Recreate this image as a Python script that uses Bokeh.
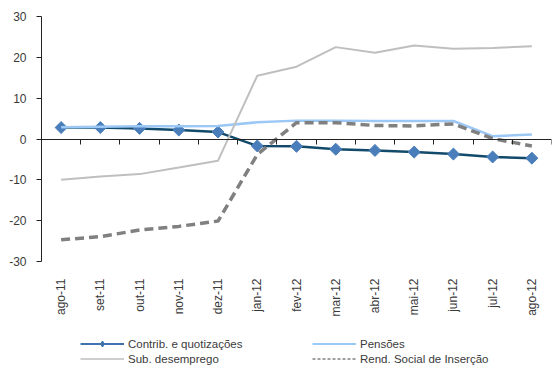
import numpy as np
from bokeh.plotting import figure
from bokeh.layouts import column
from bokeh.models import (Range1d, FixedTicker, LinearAxis, CustomJSTickFormatter,
                          Legend, LegendItem, ColumnDataSource)
from bokeh.embed import file_html
from bokeh.resources import INLINE

months = ["ago-11", "set-11", "out-11", "nov-11", "dez-11", "jan-12", "fev-12",
          "mar-12", "abr-12", "mai-12", "jun-12", "jul-12", "ago-12"]
contrib = [2.8, 2.8, 2.6, 2.2, 1.7, -1.7, -1.8, -2.5, -2.8, -3.2, -3.7, -4.4, -4.7]
pensoes = [2.9, 3.0, 3.1, 3.1, 3.2, 4.1, 4.5, 4.5, 4.4, 4.4, 4.4, 0.7, 1.1]
sub_desemprego = [-10.0, -9.2, -8.6, -7.0, -5.3, 15.5, 17.7, 22.5, 21.1, 22.9, 22.1, 22.3, 22.7]
rsi = [-24.7, -23.9, -22.3, -21.4, -20.1, -3.8, 4.0, 4.0, 3.3, 3.2, 3.7, 0.1, -1.7]
y_ticks = [-30, -20, -10, 0, 10, 20, 30]

names = ["Contrib. e quotizações", "Pensões", "Sub. desemprego", "Rend. Social de Inserção"]

FONT = "Liberation Sans"
TXT = "#3a3a3a"

x = np.arange(len(months)) + 0.5
src = ColumnDataSource(dict(x=x, c=contrib, p=pensoes, s=sub_desemprego, r=rsi))

p = figure(frame_width=510, frame_height=245, output_backend="svg", toolbar_location=None,
           x_range=Range1d(0, len(months)), y_range=Range1d(-30, 30),
           min_border_left=41, min_border_right=1, min_border_top=16, min_border_bottom=57)
p.outline_line_color = None
p.background_fill_color = "white"
p.border_fill_color = "white"
p.xgrid.grid_line_color = None
p.ygrid.grid_line_color = None

# y axis
ya = p.yaxis[0]
ya.ticker = FixedTicker(ticks=y_ticks)
ya.formatter = CustomJSTickFormatter(code="return String(Math.round(tick));")
ya.axis_line_color = "#222222"
ya.major_tick_line_color = "#222222"
ya.major_tick_out = 5
ya.major_tick_in = 0
ya.minor_tick_line_color = None
ya.major_label_standoff = 10
ya.major_label_text_font = FONT
ya.major_label_text_font_size = "12px"
ya.major_label_text_color = TXT

# bottom axis with month labels
xa = p.xaxis[0]
xa.ticker = FixedTicker(ticks=list(x))
xa.formatter = CustomJSTickFormatter(args=dict(labels=months),
                                     code="return labels[Math.round(tick - 0.5)];")
xa.axis_line_color = None
xa.major_tick_line_color = None
xa.minor_tick_line_color = None
xa.major_label_orientation = np.pi / 2
xa.major_label_standoff = 11
xa.major_label_text_font = FONT
xa.major_label_text_font_size = "12px"
xa.major_label_text_color = TXT

# zero line axis with ticks at category boundaries
za = LinearAxis(fixed_location=0, ticker=FixedTicker(ticks=list(range(len(months) + 1))))
za.formatter = CustomJSTickFormatter(code="return '';")
za.axis_line_color = "#222222"
za.major_tick_line_color = "#222222"
za.major_tick_in = 0
za.major_tick_out = 5
za.minor_tick_line_color = None
za.major_label_standoff = 0
p.add_layout(za, "below")

# series (Excel order)
p.line("x", "c", source=src, line_color="#124A6B", line_width=2.5)
p.scatter("x", "c", source=src, marker="square", angle=np.pi / 4, size=8.5,
          fill_color="#4A7EBB", line_color="#4A7EBB")
p.line("x", "p", source=src, line_color="#9CC8F5", line_width=2.5)
p.line("x", "s", source=src, line_color="#BFBFBF", line_width=2)
p.line("x", "r", source=src, line_color="#808080", line_width=3.5, line_dash="9 5")

# legend strip
q = figure(frame_width=552, frame_height=52, output_backend="svg", toolbar_location=None,
           x_axis_type=None, y_axis_type=None, x_range=Range1d(0, 1), y_range=Range1d(0, 1),
           min_border=0)
q.outline_line_color = None
q.xgrid.grid_line_color = None
q.ygrid.grid_line_color = None
nan_src = ColumnDataSource(dict(x=[np.nan], y=[np.nan]))
lg_c1 = q.line("x", "y", source=nan_src, line_color="#3F72AF", line_width=2)
lg_c2 = q.scatter("x", "y", source=nan_src, marker="diamond", size=7,
                  fill_color="#3F72AF", line_color="#3F72AF")
lg_s = q.line("x", "y", source=nan_src, line_color="#BFBFBF", line_width=1.5)
lg_p = q.line("x", "y", source=nan_src, line_color="#9CC8F5", line_width=2)
lg_r = q.line("x", "y", source=nan_src, line_color="#404040", line_width=1, line_dash="3 2")

leg = Legend(items=[LegendItem(label=names[0], renderers=[lg_c1, lg_c2]),
                    LegendItem(label=names[1], renderers=[lg_p]),
                    LegendItem(label=names[2], renderers=[lg_s]),
                    LegendItem(label=names[3], renderers=[lg_r])],
             location=(80, 5), orientation="horizontal", ncols=2)
leg.background_fill_alpha = 0
leg.border_line_color = None
leg.padding = 0
leg.margin = 0
leg.spacing = 0
leg.glyph_width = 44
leg.glyph_height = 15
leg.label_height = 15
leg.label_width = 184
leg.label_standoff = 4
leg.label_text_font = FONT
leg.label_text_font_size = "11.5px"
leg.label_text_color = TXT
leg.label_text_baseline = "middle"
q.add_layout(leg, "center")

layout = column(p, q, spacing=0)
open("out.html", "w").write(file_html(layout, INLINE))
